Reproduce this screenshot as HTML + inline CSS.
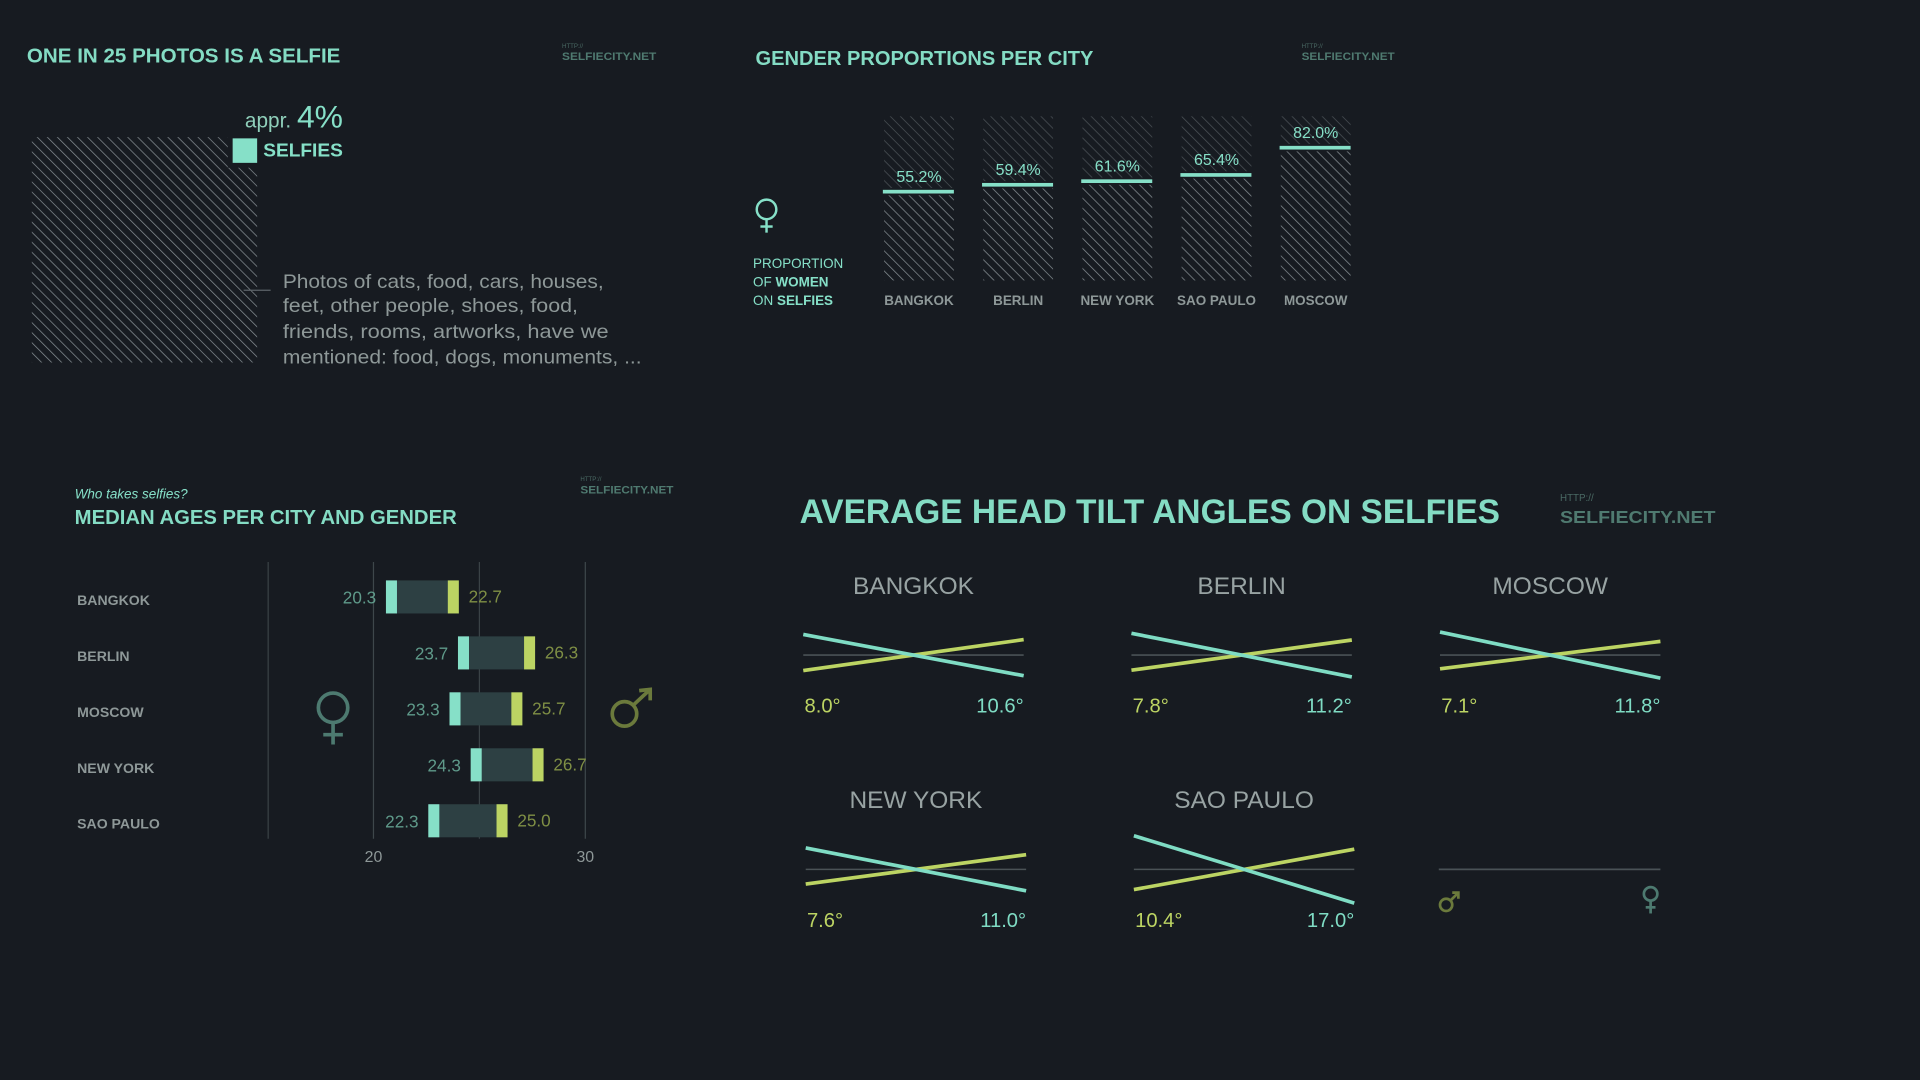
<!DOCTYPE html>
<html><head><meta charset="utf-8"><title>Selfiecity</title>
<style>
html,body{margin:0;padding:0;background:#171b21;overflow:hidden}
svg{display:block}
text{font-family:"Liberation Sans",sans-serif}
</style></head>
<body>
<svg id="root" width="1920" height="1080" viewBox="0 0 1568 882" preserveAspectRatio="none" xmlns="http://www.w3.org/2000/svg">
<defs>
<pattern id="hatch" patternUnits="userSpaceOnUse" width="5.8" height="5.8" patternTransform="rotate(-45)">
<line x1="0" y1="0" x2="0" y2="5.8" stroke="#858d92" stroke-width="1.2"/></pattern>
<pattern id="hatchDim" patternUnits="userSpaceOnUse" width="5.8" height="5.8" patternTransform="rotate(-45)">
<line x1="0" y1="0" x2="0" y2="5.8" stroke="#4b5257" stroke-width="1.2"/></pattern>
</defs>
<rect width="1568" height="882" fill="#171b21"/>

<!-- Panel 1 -->
<g>
<text x="22" y="51" font-size="16.5" font-weight="bold" fill="#84dcc4" textLength="256" lengthAdjust="spacingAndGlyphs">ONE IN 25 PHOTOS IS A SELFIE</text>
<text x="459" y="39" font-size="5" fill="#4a6a64">HTTP://</text>
<text x="459" y="49" font-size="9" font-weight="bold" fill="#4f7a70" textLength="77" lengthAdjust="spacingAndGlyphs">SELFIECITY.NET</text>
<path d="M26,112 H186 V137 H210 V296 H26 Z" fill="url(#hatch)"/>
<rect x="190" y="113" width="20" height="20" fill="#86e0c8"/>
<text x="200" y="104" font-size="17" fill="#8fcfba">appr. <tspan font-size="26" fill="#86e0c8">4%</tspan></text>
<text x="215" y="128" font-size="15" font-weight="bold" fill="#86e0c8" textLength="65" lengthAdjust="spacingAndGlyphs">SELFIES</text>
<line x1="199" y1="237" x2="221" y2="237" stroke="#5d6469" stroke-width="1"/>
<g font-size="16" fill="#8e9898">
<text x="231" y="235" textLength="262" lengthAdjust="spacingAndGlyphs">Photos of cats, food, cars, houses,</text>
<text x="231" y="255" textLength="241" lengthAdjust="spacingAndGlyphs">feet, other people, shoes, food,</text>
<text x="231" y="276" textLength="266" lengthAdjust="spacingAndGlyphs">friends, rooms, artworks, have we</text>
<text x="231" y="297" textLength="293" lengthAdjust="spacingAndGlyphs">mentioned: food, dogs, monuments, ...</text>
</g>
</g>

<!-- Panel 2 -->
<g id="gender">
<text x="617" y="53" font-size="16.5" font-weight="bold" fill="#84dcc4" textLength="276" lengthAdjust="spacingAndGlyphs">GENDER PROPORTIONS PER CITY</text>
<text x="1063" y="39" font-size="5" fill="#4a6a64">HTTP://</text>
<text x="1063" y="49" font-size="9" font-weight="bold" fill="#4f7a70" textLength="76" lengthAdjust="spacingAndGlyphs">SELFIECITY.NET</text>
<g stroke="#86e0c8" stroke-width="2" fill="none">
<circle cx="626" cy="171" r="8"/><line x1="626" y1="179" x2="626" y2="190"/><line x1="621" y1="185" x2="631" y2="185"/></g>
<g font-size="11" fill="#86e0c8">
<text x="615" y="219">PROPORTION</text>
<text x="615" y="234">OF <tspan font-weight="bold">WOMEN</tspan></text>
<text x="615" y="249">ON <tspan font-weight="bold">SELFIES</tspan></text>
</g>
</g>

<!-- Panel 3 -->
<g id="ages">
<text x="61" y="407" font-size="11" font-style="italic" fill="#86e0c8">Who takes selfies?</text>
<text x="61" y="428" font-size="16.5" font-weight="bold" fill="#84dcc4" textLength="312" lengthAdjust="spacingAndGlyphs">MEDIAN AGES PER CITY AND GENDER</text>
<text x="474" y="393" font-size="5" fill="#4a6a64">HTTP://</text>
<text x="474" y="403" font-size="9" font-weight="bold" fill="#4f7a70" textLength="76" lengthAdjust="spacingAndGlyphs">SELFIECITY.NET</text>
<line x1="219" y1="459" x2="219" y2="685" stroke="#3a4246" stroke-width="1"/>
<g stroke="#4d7a70" stroke-width="3" fill="none">
<circle cx="272" cy="578" r="12"/><line x1="272" y1="590" x2="272" y2="608"/><line x1="264" y1="600" x2="280" y2="600"/></g>
<g stroke="#6b7a3c" stroke-width="3" fill="none">
<circle cx="510" cy="583" r="10"/><line x1="517" y1="576" x2="531" y2="563"/><polyline points="522,564 531,563 531,572"/></g>
</g>

<!-- Panel 4 -->
<g id="tilt">
<text x="653" y="427" font-size="28" font-weight="bold" fill="#84dcc4" textLength="572" lengthAdjust="spacingAndGlyphs">AVERAGE HEAD TILT ANGLES ON SELFIES</text>
<text x="1274" y="409" font-size="8" fill="#4a6a64">HTTP://</text>
<text x="1274" y="427" font-size="14" font-weight="bold" fill="#4f7a70" textLength="127" lengthAdjust="spacingAndGlyphs">SELFIECITY.NET</text>
<g>
<line x1="1175" y1="710" x2="1356" y2="710" stroke="#4a5256" stroke-width="1.5"/>
<g stroke="#6b7a3c" stroke-width="2.2" fill="none"><circle cx="1181" cy="739" r="5"/><line x1="1185" y1="735" x2="1191" y2="729"/><polyline points="1186,729 1191,729 1191,734"/></g>
<g stroke="#4d7a70" stroke-width="2.2" fill="none"><circle cx="1348" cy="730" r="5.5"/><line x1="1348" y1="735.5" x2="1348" y2="746"/><line x1="1344" y1="741" x2="1352" y2="741"/></g>
</g>
</g>
</svg>
<script>
const NS = "http://www.w3.org/2000/svg";
// ---- Gender proportions data ----
const genderCities = ["BANGKOK","BERLIN","NEW YORK","SAO PAULO","MOSCOW"];
const womenPct = [55.2, 59.4, 61.6, 65.4, 82.0];
// ---- Median ages data ----
const ageCities = ["BANGKOK","BERLIN","MOSCOW","NEW YORK","SAO PAULO"];
const femaleAge = [20.3, 23.7, 23.3, 24.3, 22.3];
const maleAge = [22.7, 26.3, 25.7, 26.7, 25.0];
const ageTicks = [20, 30];
// ---- Head tilt data ----
const tiltCities = ["BANGKOK","BERLIN","MOSCOW","NEW YORK","SAO PAULO"];
const maleTilt = [8.0, 7.8, 7.1, 7.6, 10.4];
const femaleTilt = [10.6, 11.2, 11.8, 11.0, 17.0];

function mk(tag, attrs, parent, txt){
  const e = document.createElementNS(NS, tag);
  for (const k in attrs) e.setAttribute(k, attrs[k]);
  if (txt !== undefined) e.textContent = txt;
  parent.appendChild(e); return e;
}

// Gender proportions
(function(){
  const g = document.getElementById('gender');
  const top = 95, bottom = 229, bw = 57;
  const y = p => bottom - p / 100 * (bottom - top);
  const x = i => 722 + i * 81;
  genderCities.forEach((c, i) => {
    const ly = y(womenPct[i]) + 1.5;
    const up = mk('rect', {x: x(i), y: top, width: bw, height: Math.max(0, ly - 3 - top), fill: 'url(#hatchDim)'}, g);
    
    
    const low = mk('rect', {x: x(i), y: ly + 3, width: bw, height: bottom - ly - 3, fill: 'url(#hatch)'}, g);
    
    
    const ln = mk('rect', {x: x(i) - 1, y: ly - 1.5, width: bw + 1, height: 3, fill: '#86e0c8'}, g);
    
    
    const t = mk('text', {x: x(i) + bw / 2, y: ly - 8, 'font-size': 13, fill: '#86e0c8', 'text-anchor': 'middle'}, g, womenPct[i].toFixed(1) + '%');
    
    
    const cl = mk('text', {x: x(i) + bw / 2, y: 249, 'font-size': 11, 'font-weight': 'bold', fill: '#8e9898', 'text-anchor': 'middle'}, g, c);
    
    
  });
})();

// Median ages
(function(){
  const g = document.getElementById('ages');
  const x = v => 305 + (v - 20) * 17.3;
  const off = 14, cap = 9;
  const rowY = i => 474 + i * 45.7;
  [20, 25, 30].forEach(v => {
    const l = mk('line', {x1: x(v), y1: 459, x2: x(v), y2: 685, stroke: v === 25 ? '#3a4246' : '#3e474b', 'stroke-width': 1}, g);
    
    
  });
  ageTicks.forEach(v => {
    const t = mk('text', {x: x(v), y: 704, 'font-size': 13, fill: '#8e9898', 'text-anchor': 'middle'}, g, String(v));
    
    
  });
  ageCities.forEach((c, i) => {
    const yy = rowY(i), h = 27;
    const l = x(femaleAge[i]) + off - cap, r = x(maleAge[i]) + off + cap;
    const body = mk('rect', {x: l, y: yy, width: r - l, height: h, fill: '#2d4043'}, g);
    
    
    const fc = mk('rect', {x: l, y: yy, width: cap, height: h, fill: '#86e0c8'}, g);
    
    
    const mc = mk('rect', {x: r - cap, y: yy, width: cap, height: h, fill: '#bcd463'}, g);
    
    
    const ft = mk('text', {x: l - 8, y: yy + 19, 'font-size': 14, fill: '#5f9a8a', 'text-anchor': 'end'}, g, femaleAge[i].toFixed(1));
    
    
    const mt = mk('text', {x: r + 8, y: yy + 18, 'font-size': 14, fill: '#7f8f45'}, g, maleAge[i].toFixed(1));
    
    
    const cl = mk('text', {x: 63, y: yy + 20, 'font-size': 11.5, 'font-weight': 'bold', fill: '#8e9898'}, g, c);
    
    
  });
})();

// Head tilt
(function(){
  const g = document.getElementById('tilt');
  const cellX = i => [656, 924, 1176, 658, 926][i];
  const cellY = i => (i < 3 ? 535 : 710);
  const w = 180;
  const dy = deg => Math.tan(deg * Math.PI / 180) * w / 2;
  tiltCities.forEach((c, i) => {
    const x0 = cellX(i), cy = cellY(i), cx = x0 + w / 2;
    const t = mk('text', {x: cx, y: cy - 50, 'font-size': 20, fill: '#98a3a3', 'text-anchor': 'middle'}, g, c);
    
    
    const hz = mk('line', {x1: x0, y1: cy, x2: x0 + w, y2: cy, stroke: '#4a5256', 'stroke-width': 1.3}, g);
    
    
    const dm = dy(maleTilt[i]);
    const ml = mk('line', {x1: x0, y1: cy + dm, x2: x0 + w, y2: cy - dm, stroke: '#bcd463', 'stroke-width': 3}, g);
    
    
    const df = dy(femaleTilt[i]);
    const fl = mk('line', {x1: x0, y1: cy - df, x2: x0 + w, y2: cy + df, stroke: '#7fdcc4', 'stroke-width': 3}, g);
    
    
    const mv = mk('text', {x: x0 + 1, y: cy + 47, 'font-size': 16.5, fill: '#bcd463'}, g, maleTilt[i].toFixed(1) + '°');
    
    
    const fv = mk('text', {x: x0 + w, y: cy + 47, 'font-size': 16.5, fill: '#7fdcc4', 'text-anchor': 'end'}, g, femaleTilt[i].toFixed(1) + '°');
    
    
  });
})();
</script>
</body></html>
